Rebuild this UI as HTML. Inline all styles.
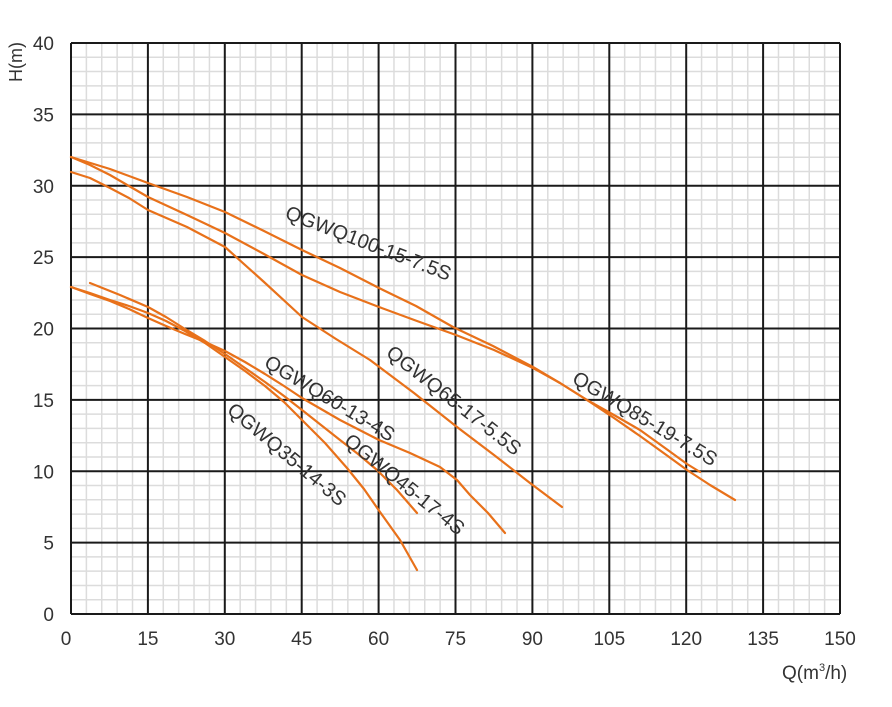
<!DOCTYPE html>
<html><head><meta charset="utf-8"><style>
html,body{margin:0;padding:0;background:#fff;}
svg{display:block;}
text{font-family:"Liberation Sans",sans-serif;fill:#333;}
</style></head><body>
<svg width="892" height="707" viewBox="0 0 892 707" xmlns="http://www.w3.org/2000/svg">
<g stroke="#dcdcdc" stroke-width="1.5" id="mg"></g>
<g id="grid"></g>
<g fill="none" stroke="#e8711a" stroke-width="2.2" stroke-linejoin="round" stroke-linecap="round">
<polyline points="71,157 110,169 148,183 187,197 225,212 264,231 302,250 340,268 379,288 416,306 453,327 493,346 533,367 560,383 587,400 614,415 640,430 665,448 687,464 700,472"/>
<polyline points="71,157 90,165 110,175 129,186 148,197 187,215 225,233 264,254 302,275 340,292 379,307 417,321 456,335 494,350 533,368 560,383 587,400 614,418 640,436 665,454 687,470 710,485 735,500"/>
<polyline points="71,172 90,178 110,188 129,198 148,210 187,227 225,247 264,282 302,317 336,339 370,360 414,393 457,427 494,455 530,483 562,507"/>
<polyline points="71,287 90,293 110,300 129,306 148,313 166,321 185,331 205,343 225,357 245,371 265,386 284,402 302,420 325,443 347,468 364,489 380,512 400,540 417,570"/>
<polyline points="90,283 120,295 148,307 166,317 185,329 205,341 225,354 245,368 265,382 284,396 302,410 321,425 340,440 358,454 377,470 397,490 417,513"/>
<polyline points="71,287 90,294 110,301 129,309 148,318 166,326 185,334 205,342 225,351 245,362 265,374 284,386 302,398 340,420 379,440 410,453 440,467 457,480 470,495 488,513 505,533"/>
</g>
<g font-size="20">
<text transform="translate(284,218) rotate(21)">QGWQ100-15-7.5S</text>
<text transform="translate(385,355) rotate(38)">QGWQ65-17-5.5S</text>
<text transform="translate(571,382) rotate(31)">QGWQ85-19-7.5S</text>
<text transform="translate(263,366) rotate(31)">QGWQ60-13-4S</text>
<text transform="translate(343,443) rotate(39)">QGWQ45-17-4S</text>
<text transform="translate(226,412) rotate(40)">QGWQ35-14-3S</text>
</g>
<g font-size="19" text-anchor="end" id="ylab"></g>
<g font-size="19" text-anchor="middle" id="xlab"></g>
<text x="0" y="0" font-size="18" transform="translate(22,82) rotate(-90)">H(m)</text>
<text x="782" y="679" font-size="19">Q(m<tspan font-size="11" dy="-8">3</tspan><tspan dy="8">/h)</tspan></text>
</svg>
<script>
var NS="http://www.w3.org/2000/svg";
var x0=71,x1=840,y0=43,y1=614;
var mg=document.getElementById('mg'),g=document.getElementById('grid');
function ln(p,a,b,c,d,col,w){var l=document.createElementNS(NS,'line');l.setAttribute('x1',a);l.setAttribute('y1',b);l.setAttribute('x2',c);l.setAttribute('y2',d);l.setAttribute('stroke',col);l.setAttribute('stroke-width',w);p.appendChild(l);}
for(var i=0;i<=50;i++){var x=x0+(x1-x0)*i/50;if(i%5)ln(mg,x,y0,x,y1,'#dcdcdc',1.5);}
for(var j=0;j<=40;j++){var y=y0+(y1-y0)*j/40;if(j%5)ln(mg,x0,y,x1,y,'#dcdcdc',1.5);}
for(var i=0;i<=10;i++){var x=x0+(x1-x0)*i/10;ln(g,x,y0,x,y1,'#1a1a1a',2);}
for(var j=0;j<=8;j++){var y=y0+(y1-y0)*j/8;ln(g,x0,y,x1,y,'#1a1a1a',2);}
var yl=document.getElementById('ylab'),xl=document.getElementById('xlab');
for(var j=0;j<=8;j++){var t=document.createElementNS(NS,'text');t.setAttribute('x',54);t.setAttribute('y',y0+(y1-y0)*j/8+7);t.textContent=40-5*j;yl.appendChild(t);}
for(var i=0;i<=10;i++){var t=document.createElementNS(NS,'text');var x=x0+(x1-x0)*i/10;if(i==0)x=66;t.setAttribute('x',x);t.setAttribute('y',645);t.textContent=15*i;xl.appendChild(t);}
</script>
</body></html>
